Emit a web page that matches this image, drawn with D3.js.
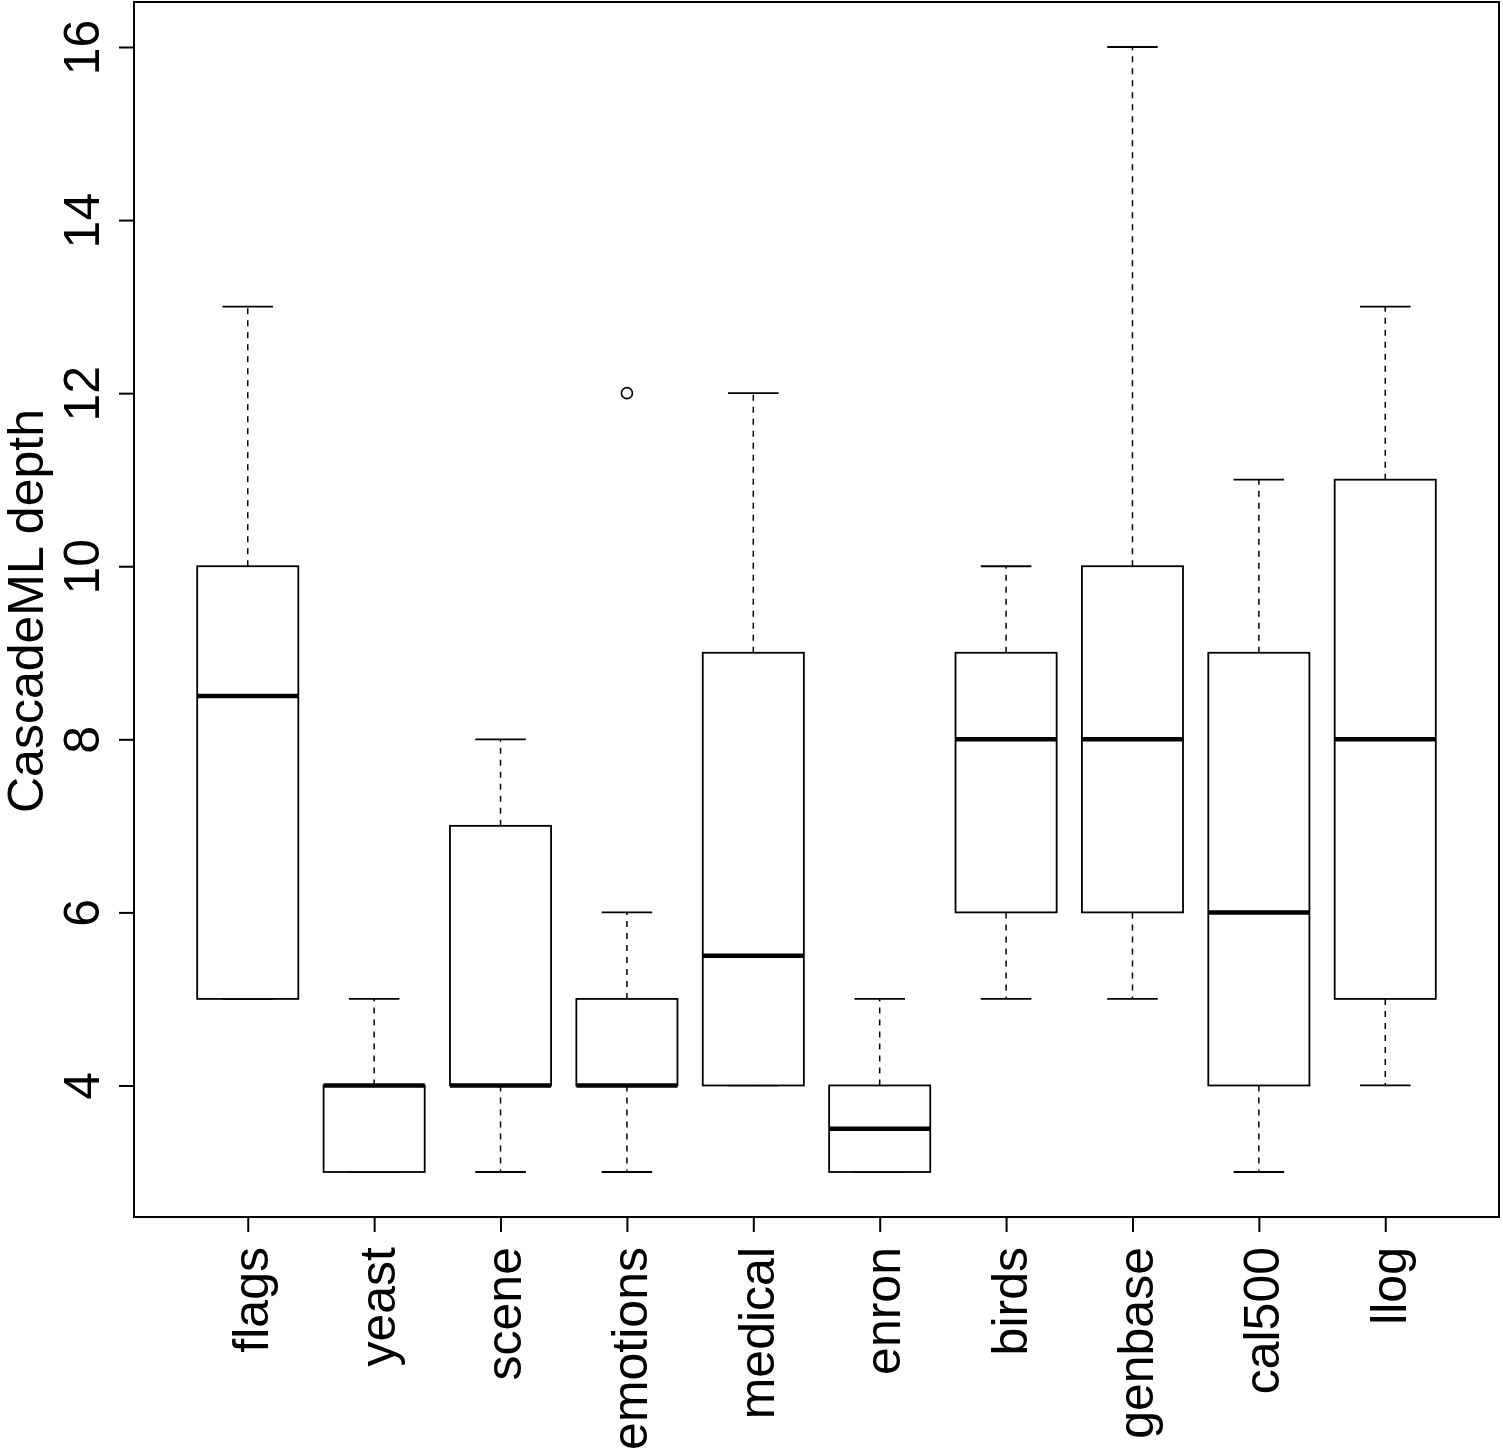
<html>
<style>
    body { margin: 0; background: white; }
    text { font-family: "Liberation Sans", Arial, Helvetica, sans-serif; }
</style>
<script src="https://d3js.org/d3.v7.min.js"></script>
<body>
<svg width="1503" height="1450"></svg>
<script>
    // values
    var datasets = ["flags", "yeast", "scene", "emotions", "medical", "enron", "birds", "genbase", "cal500", "llog"];
    var whiskerLow  = [5, 3, 3, 3, 4, 3, 5, 5, 3, 4];
    var q1          = [5, 3, 4, 4, 4, 3, 6, 6, 4, 5];
    var medians     = [8.5, 4, 4, 4, 5.5, 3.5, 8, 8, 6, 8];
    var q3          = [10, 4, 7, 5, 9, 4, 9, 10, 9, 11];
    var whiskerHigh = [13, 5, 8, 6, 12, 5, 10, 16, 11, 13];
    var outliers    = [{set: "emotions", value: 12}];
    var yTicks = [4, 6, 8, 10, 12, 14, 16];

    function draw() {
        var svg = d3.select("svg");
        var plotLeft = 134, plotRight = 1499, plotTop = 2, plotBottom = 1217;

        var xScale = d3.scaleLinear().domain([0.1, 10.9]).range([plotLeft, plotRight]);
        var yScale = d3.scaleLinear().domain([2.48, 16.52]).range([plotBottom, plotTop]);
        var unit = xScale(1) - xScale(0);

        var boxes = datasets.map(function(d, i) {
            return {name: d, pos: i + 1, lo: whiskerLow[i], q1: q1[i], med: medians[i], q3: q3[i], hi: whiskerHigh[i]};
        });

        var g = svg.append("g");

        // whiskers (dashed)
        g.selectAll(".wlow").data(boxes).enter().append("line")
            .attr("x1", function(d) {return xScale(d.pos);})
            .attr("x2", function(d) {return xScale(d.pos);})
            .attr("y1", function(d) {return yScale(d.q1);})
            .attr("y2", function(d) {return yScale(d.lo);})
            .attr("stroke", "black").attr("stroke-width", 1.5)
            .attr("stroke-dasharray", "6,6");
        g.selectAll(".whigh").data(boxes).enter().append("line")
            .attr("x1", function(d) {return xScale(d.pos);})
            .attr("x2", function(d) {return xScale(d.pos);})
            .attr("y1", function(d) {return yScale(d.q3);})
            .attr("y2", function(d) {return yScale(d.hi);})
            .attr("stroke", "black").attr("stroke-width", 1.5)
            .attr("stroke-dasharray", "6,6");

        // staples
        ["lo", "hi"].forEach(function(k) {
            g.selectAll(".staple-" + k).data(boxes).enter().append("line")
                .attr("x1", function(d) {return xScale(d.pos - 0.2);})
                .attr("x2", function(d) {return xScale(d.pos + 0.2);})
                .attr("y1", function(d) {return yScale(d[k]);})
                .attr("y2", function(d) {return yScale(d[k]);})
                .attr("stroke", "black").attr("stroke-width", 1.8);
        });

        // boxes
        g.selectAll("rect").data(boxes).enter().append("rect")
            .attr("x", function(d) {return xScale(d.pos - 0.4);})
            .attr("width", 0.8 * unit)
            .attr("y", function(d) {return yScale(d.q3);})
            .attr("height", function(d) {return yScale(d.q1) - yScale(d.q3);})
            .attr("fill", "white").attr("stroke", "black").attr("stroke-width", 1.8);

        // medians
        g.selectAll(".median").data(boxes).enter().append("line")
            .attr("x1", function(d) {return xScale(d.pos - 0.4);})
            .attr("x2", function(d) {return xScale(d.pos + 0.4);})
            .attr("y1", function(d) {return yScale(d.med);})
            .attr("y2", function(d) {return yScale(d.med);})
            .attr("stroke", "black").attr("stroke-width", 4.5);

        // outliers
        g.selectAll("circle").data(outliers).enter().append("circle")
            .attr("cx", function(d) {return xScale(datasets.indexOf(d.set) + 1);})
            .attr("cy", function(d) {return yScale(d.value);})
            .attr("r", 5.5)
            .attr("fill", "none").attr("stroke", "black").attr("stroke-width", 1.6);

        // frame
        svg.append("rect")
            .attr("x", plotLeft).attr("y", plotTop)
            .attr("width", plotRight - plotLeft).attr("height", plotBottom - plotTop)
            .attr("fill", "none").attr("stroke", "black").attr("stroke-width", 2);

        // y axis
        var yAxis = svg.append("g")
            .attr("transform", "translate(" + plotLeft + ",0)")
            .call(d3.axisLeft(yScale).tickValues(yTicks).tickSize(15).tickSizeOuter(0).tickFormat(d3.format("d")));
        yAxis.select(".domain").remove();
        yAxis.selectAll("line").attr("stroke-width", 2);
        yAxis.selectAll("text")
            .attr("x", null).attr("dy", null)
            .attr("transform", "translate(-35,0) rotate(-90)")
            .style("text-anchor", "middle")
            .style("font-size", "50px")
            .style("font-family", "'Liberation Sans', Arial, sans-serif")
            .attr("fill", "black");

        // x axis
        var xAxis = svg.append("g")
            .attr("transform", "translate(0," + plotBottom + ")")
            .call(d3.axisBottom(xScale).tickValues(d3.range(1, datasets.length + 1)).tickSize(15).tickSizeOuter(0)
                .tickFormat(function(d) {return datasets[d - 1];}));
        xAxis.select(".domain").remove();
        xAxis.selectAll("line").attr("stroke-width", 2);
        xAxis.selectAll("text")
            .attr("y", null).attr("dy", null)
            .attr("transform", "translate(20,30) rotate(-90)")
            .style("text-anchor", "end")
            .style("font-size", "50px")
            .style("font-family", "'Liberation Sans', Arial, sans-serif")
            .attr("fill", "black");

        // y label
        svg.append("text")
            .attr("transform", "translate(43,611) rotate(-90)")
            .attr("text-anchor", "middle")
            .style("font-size", "50px")
            .text("CascadeML depth");
    }
    draw();
</script>
</body>
</html>
